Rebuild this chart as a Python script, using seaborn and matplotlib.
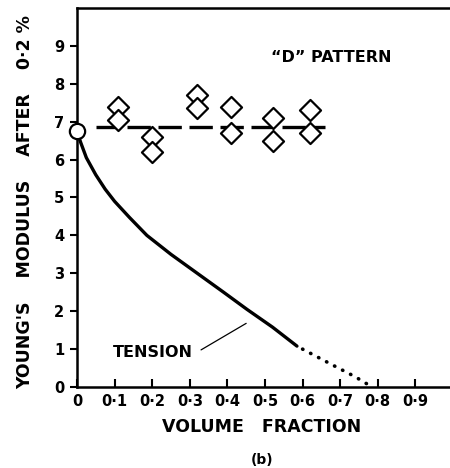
import numpy as np
import pandas as pd
import seaborn as sns
import matplotlib.pyplot as plt

# measured points ("D" pattern), two readings per volume fraction
vf_pts = [0.11, 0.11, 0.20, 0.20, 0.32, 0.32, 0.41, 0.41, 0.52, 0.52, 0.62, 0.62]
mod_pts = [7.40, 7.05, 6.60, 6.20, 7.70, 7.35, 7.40, 6.70, 7.10, 6.50, 7.30, 6.70]

# mean level (dashed)
mean_x = [0.05, 0.66]
mean_y = [6.85, 6.85]

# tension curve (solid) and its extrapolation (dotted)
tension_x = [0.0, 0.01, 0.025, 0.05, 0.075, 0.1, 0.14, 0.186, 0.25, 0.32,
             0.39, 0.452, 0.52, 0.585]
tension_y = [6.75, 6.45, 6.05, 5.6, 5.22, 4.9, 4.47, 4.0, 3.5, 3.0,
             2.5, 2.05, 1.58, 1.08]
extrap_x = [0.60, 0.68, 0.74, 0.785]
extrap_y = [1.0, 0.58, 0.27, 0.0]

x_ticks = [0, 0.1, 0.2, 0.3, 0.4, 0.5, 0.6, 0.7, 0.8, 0.9]
x_labels = ["0", "0·1", "0·2", "0·3", "0·4", "0·5", "0·6", "0·7", "0·8", "0·9"]
y_ticks = [0, 1, 2, 3, 4, 5, 6, 7, 8, 9]
y_labels = ["0", "1", "2", "3", "4", "5", "6", "7", "8", "9"]

sns.set_style("ticks")
plt.rcParams["font.family"] = ["DejaVu Sans"]
plt.rcParams["font.weight"] = "bold"
for k in ["text.color", "axes.edgecolor", "axes.labelcolor", "xtick.color", "ytick.color"]:
    plt.rcParams[k] = "black"

fig = plt.figure(figsize=(4.5, 4.68), dpi=100)
ax = fig.add_axes([0.171, 0.173, 0.829, 0.810])

pts = pd.DataFrame({"vf": vf_pts, "mod": mod_pts})
sns.scatterplot(data=pts, x="vf", y="mod", marker="D", s=115,
                facecolor="white", edgecolor="black", linewidth=1.6, ax=ax, zorder=3)

sns.lineplot(x=mean_x, y=mean_y, color="black", linewidth=2.4, ax=ax, zorder=2)
ax.lines[-1].set_dashes([7, 2.3])

sns.lineplot(x=tension_x, y=tension_y, color="black", linewidth=2.4, ax=ax,
             sort=False, estimator=None)
ax.plot(extrap_x, extrap_y, color="black", linewidth=2.6,
        linestyle=(0, (0.1, 2.4)), dash_capstyle="round")

ax.plot([0], [6.75], marker="o", ms=11, mfc="white", mec="black", mew=1.6,
        clip_on=False, zorder=4)

ax.text(0.515, 8.7, "\u201cD\u201d PATTERN", fontsize=11.5, va="center", ha="left")
ax.text(0.096, 0.92, "TENSION", fontsize=11.5, va="center", ha="left")
ax.plot([0.33, 0.45], [0.98, 1.68], color="black", linewidth=0.9)

ax.set_xlim(0, 0.992)
ax.set_ylim(0, 10)
ax.set_xticks(x_ticks)
ax.set_xticklabels(x_labels, fontsize=10.5)
ax.set_yticks(y_ticks)
ax.set_yticklabels(y_labels, fontsize=10.5)
ax.tick_params(axis="x", direction="in", length=6, width=1.5, pad=5)
ax.tick_params(axis="y", direction="out", length=5, width=1.5, pad=4)
ax.spines["right"].set_visible(False)
for s in ["left", "bottom", "top"]:
    ax.spines[s].set_linewidth(1.8)
ax.set_xlabel("")
ax.set_ylabel("")

fig.text(0.582, 0.088, "VOLUME   FRACTION", fontsize=12.5, ha="center", va="center")
fig.text(0.582, 0.017, "(b)", fontsize=10, ha="center", va="center")
fig.text(0.055, 0.568, "YOUNG'S    MODULUS    AFTER    0·2 %", fontsize=12.5,
         rotation=90, ha="center", va="center")

fig.savefig("out.png", dpi=100)
